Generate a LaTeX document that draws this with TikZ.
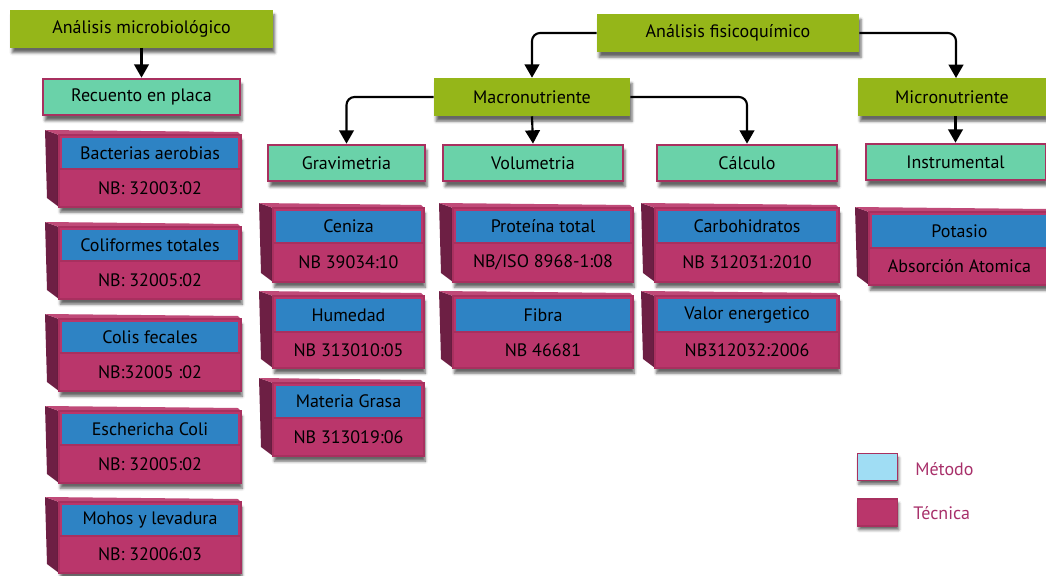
\documentclass[tikz,border=0pt]{standalone}
\usepackage{fontspec}
\setmainfont{PT Sans}
\usepackage{tikz}
\usetikzlibrary{arrows.meta,shadows.blur}

\definecolor{grn}{HTML}{95B619}
\definecolor{tealbox}{HTML}{6AD2A9}
\definecolor{magline}{HTML}{A8305F}
\definecolor{metcol}{HTML}{2E83C4}
\definecolor{teccol}{HTML}{BA366B}
\definecolor{sidecol}{HTML}{6D1F44}
\definecolor{topcol}{HTML}{C04A78}
\definecolor{legblue}{HTML}{A0DDF4}
\definecolor{legtext}{HTML}{A8306A}

% norm box: name, xL, yT, xR, yM, yB, method, technique
\newcommand{\normbox}[8]{%
    \fill[sidecol] (#2-14,#3-5) -- (#2,#3) -- (#2,#6) -- (#2-12,#6-9) -- cycle;
    \fill[topcol] (#2-14,#3-5) -- (#4-3,#3-3) -- (#4,#3) -- (#2,#3) -- cycle;
    \draw[magline, fill=teccol, line width=1pt, blur shadow={shadow xshift=1pt, shadow yshift=-4pt, shadow opacity=60}] (#2,#3) rectangle (#4,#6);
    \fill[metcol] (#2+3,#3+3) rectangle (#4-3,#5);
    \draw[magline, line width=0.8pt] (#2,#5) -- (#4,#5);
    \node[lbl] (#1-met) at ({(#2+#4)/2},{(#3+#5)/2+1}) {#7};
    \node[lbl] (#1-tec) at ({(#2+#4)/2},{(#5+#6)/2}) {#8};
}

\begin{document}
\begin{tikzpicture}[
        x=0.75pt, y=-0.75pt,
        font=\fontsize{13.5}{16}\selectfont,
        lbl/.style={inner sep=0pt, text=black},
        area/.style={
            fill=grn,
            minimum height=28.5pt,
            inner sep=0pt,
            blur shadow={shadow xshift=1.5pt, shadow yshift=-4pt, shadow opacity=60}
        },
        method/.style={
            draw=magline,
            line width=1.5pt,
            fill=tealbox,
            minimum height=27.5pt,
            inner sep=0pt,
            blur shadow={shadow xshift=1.5pt, shadow yshift=-4pt, shadow opacity=60}
        },
        link/.style={
            line width=1.6pt,
            rounded corners=6pt,
            -{Triangle[width=11pt,length=10pt]}
        }
    ]
    \useasboundingbox (0,0) rectangle (1046,575);

    % top level
    \node[area, minimum width=197pt] (micro) at (141.5,28.5) {Análisis microbiológico};
    \node[area, minimum width=196.5pt] (fisico) at (728,33) {Análisis fisicoquímico};

    % second level
    \node[method, minimum width=147.75pt] (recuento) at (141.5,97) {Recuento en placa};
    \node[area, minimum width=147pt] (macro) at (532,97) {Macronutriente};
    \node[area, minimum width=141pt] (micronut) at (952,97) {Micronutriente};

    % methods
    \node[method, minimum width=117.75pt] (grav) at (346.5,163) {Gravimetria};
    \node[method, minimum width=135pt] (vol) at (533,163) {Volumetria};
    \node[method, minimum width=135pt] (calc) at (747,163) {Cálculo};
    \node[method, minimum width=135pt] (instr) at (955.5,162) {Instrumental};

    \draw[link] (micro.south) -- (recuento.north);
    \draw[link] (fisico.west) -| (macro.north);
    \draw[link] (fisico.east) -| (956,78);
    \draw[link] (macro.west) -| (grav.north);
    \draw[link] (macro.south) -- (vol.north);
    \draw[link] (macro.east) -| (calc.north);
    \draw[link] (micronut.south -| instr.north) -- (instr.north);

    % microbiological
    \normbox{bact}{59}{135}{241}{169}{207}{Bacterias aerobias}{NB: 32003:02}
    \normbox{colt}{59}{227}{241}{261}{299}{Coliformes totales}{NB: 32005:02}
    \normbox{colf}{59}{319}{241}{353}{391}{Colis fecales}{NB:32005 :02}
    \normbox{esch}{59}{411}{241}{445}{483}{Eschericha Coli}{NB: 32005:02}
    \normbox{moho}{59}{502}{241}{536}{573}{Mohos y levadura}{NB: 32006:03}

    % physicochemical
    \normbox{cen}{273}{208}{424}{243}{282}{Ceniza}{NB 39034:10}
    \normbox{hum}{273}{296}{424}{332}{368}{Humedad}{NB 313010:05}
    \normbox{gras}{273}{383}{424}{418}{456}{Materia Grasa}{NB 313019:06}
    \normbox{prot}{453}{208}{633}{243}{282}{Proteína total}{NB/ISO 8968-1:08}
    \normbox{fib}{453}{296}{633}{332}{368}{Fibra}{NB 46681}
    \normbox{carb}{655}{208}{839}{243}{282}{Carbohidratos}{NB 312031:2010}
    \normbox{valor}{655}{296}{839}{332}{368}{Valor energetico}{NB312032:2006}
    \normbox{pot}{869}{212}{1050}{248}{285}{Potasio}{Absorción Atomica}

    % legend
    \node[draw=magline, line width=1.2pt, fill=legblue, minimum width=30pt, minimum height=20pt, inner sep=0pt,
        blur shadow={shadow xshift=1pt, shadow yshift=-3pt, shadow opacity=60}] (legmet) at (877.5,467) {};
    \node[draw=magline, line width=1.2pt, fill=teccol, minimum width=30pt, minimum height=20pt, inner sep=0pt,
        blur shadow={shadow xshift=1pt, shadow yshift=-3pt, shadow opacity=60}] (legtec) at (877.5,512.5) {};
    \node[text=legtext, anchor=west, inner sep=0pt] (legmettxt) at (915,469) {Método};
    \node[text=legtext, anchor=west, inner sep=0pt] (legtectxt) at (913,513) {Técnica};

\end{tikzpicture}
\end{document}
